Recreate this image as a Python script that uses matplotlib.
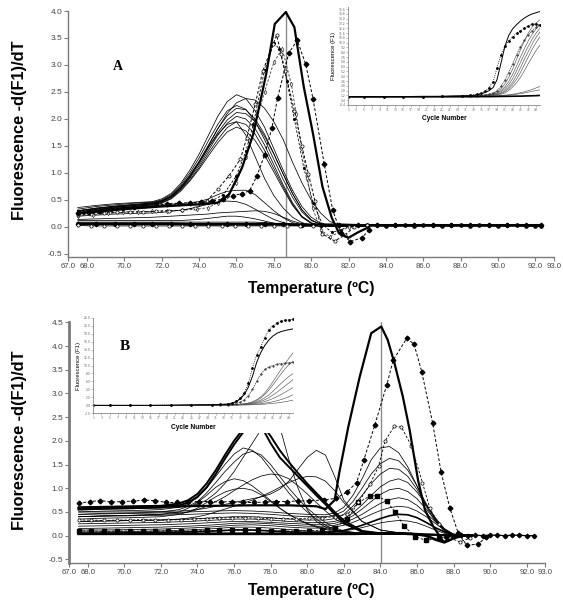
import matplotlib
matplotlib.use('Agg')
import matplotlib.pyplot as plt
from matplotlib.patches import Rectangle

# ================= DATA =================
# ---- Panel A: melt-curve derivative ----
GA = [67.5, 68.5, 69.5, 70.5, 71.5, 72.0, 72.5, 73.0, 73.5, 74.0, 74.5, 75.0, 75.5, 76.0,
      76.5, 77.0, 77.5, 78.0, 78.5, 79.0, 79.5, 80.0, 80.5, 81.0, 81.5, 82.0, 83.0]
a1 = [0.36,0.40,0.43,0.45,0.47,0.52,0.62,0.80,1.05,1.35,1.70,2.05,2.32,2.45,2.38,2.15,1.85,1.45,1.05,0.68,0.38,0.18,0.07,0.03,0.02,0.02,0.02]
a2 = [0.30,0.34,0.38,0.41,0.44,0.48,0.55,0.70,0.92,1.20,1.50,1.82,2.10,2.30,2.38,2.35,2.20,1.95,1.62,1.20,0.82,0.50,0.26,0.10,0.04,0.02,0.02]
a3 = [0.33,0.38,0.41,0.44,0.46,0.50,0.60,0.77,1.00,1.28,1.60,1.90,2.15,2.25,2.18,1.95,1.62,1.25,0.88,0.55,0.28,0.12,0.05,0.02,0.02,0.02,0.02]
a4 = [0.30,0.35,0.39,0.42,0.45,0.49,0.58,0.74,0.96,1.22,1.52,1.82,2.06,2.20,2.17,2.00,1.72,1.36,0.98,0.62,0.32,0.13,0.05,0.02,0.02,0.02,0.02]
a5 = [0.28,0.33,0.37,0.40,0.43,0.47,0.56,0.72,0.93,1.18,1.47,1.75,1.98,2.12,2.10,1.95,1.68,1.35,0.98,0.62,0.32,0.13,0.05,0.02,0.02,0.02,0.02]
a6 = [0.27,0.32,0.36,0.39,0.42,0.46,0.55,0.70,0.90,1.14,1.42,1.70,1.92,2.05,2.00,1.82,1.52,1.15,0.78,0.45,0.20,0.08,0.03,0.02,0.02,0.02,0.02]
a7 = [0.26,0.31,0.35,0.38,0.41,0.45,0.53,0.68,0.87,1.10,1.37,1.62,1.84,1.95,1.90,1.72,1.42,1.08,0.74,0.42,0.19,0.07,0.03,0.02,0.02,0.02,0.02]
a8 = [0.25,0.30,0.34,0.37,0.40,0.44,0.52,0.66,0.85,1.07,1.32,1.56,1.76,1.85,1.78,1.60,1.33,1.02,0.70,0.40,0.18,0.07,0.03,0.02,0.02,0.02,0.02]
a9 = [0.30,0.35,0.38,0.41,0.44,0.48,0.57,0.73,0.95,1.20,1.48,1.72,1.90,1.95,1.70,1.30,0.90,0.58,0.35,0.18,0.08,0.04,0.02,0.02,0.02,0.02,0.02]
a10 = [0.25,0.30,0.33,0.36,0.38,0.40,0.42,0.43,0.45,0.47,0.52,0.60,0.66,0.68,0.68,0.60,0.45,0.30,0.17,0.08,0.04,0.02,0.02,0.02,0.02,0.02,0.02]
a11 = [0.20,0.22,0.24,0.25,0.26,0.27,0.29,0.31,0.34,0.38,0.42,0.46,0.48,0.47,0.42,0.33,0.23,0.14,0.08,0.04,0.02,0.02,0.02,0.02,0.02,0.02,0.02]
a12 = [0.14,0.15,0.16,0.17,0.18,0.19,0.20,0.21,0.22,0.23,0.24,0.26,0.27,0.28,0.29,0.30,0.29,0.25,0.18,0.11,0.06,0.03,0.02,0.02,0.02,0.02,0.02]
a13 = [0.12,0.12,0.12,0.12,0.12,0.12,0.12,0.12,0.13,0.14,0.16,0.18,0.20,0.20,0.18,0.15,0.11,0.07,0.04,0.03,0.02,0.02,0.02,0.02,0.02,0.02,0.02]
a14 = [0.09,0.09,0.09,0.09,0.09,0.09,0.09,0.09,0.09,0.09,0.09,0.09,0.09,0.09,0.09,0.09,0.08,0.07,0.06,0.05,0.04,0.03,0.02,0.02,0.02,0.02,0.02]

aT_x = [67.5,70.0,72.0,74.0,75.0,75.6,76.3,76.9,77.6,78.05,78.64,79.1,79.6,80.1,80.6,81.1,81.5,82.0,82.5,83.1]
aT_y = [0.25,0.33,0.38,0.42,0.45,0.60,1.10,1.72,2.85,3.76,3.98,3.70,2.60,1.72,0.75,0.17,-0.12,-0.20,-0.10,0.00]

d1_x = [67.5,68.1,68.7,69.3,69.9,70.5,71.1,71.7,72.3,72.9,73.5,74.1,74.7,75.3,75.8,76.3,76.7,77.1,77.5,77.9,78.2,78.8,79.25,79.7,80.1,80.7,81.15,81.6,82.1,82.7,83.1]
d1_y = [0.25,0.28,0.30,0.33,0.35,0.37,0.40,0.42,0.43,0.44,0.45,0.46,0.48,0.52,0.58,0.62,0.67,0.95,1.33,1.84,2.39,3.22,3.46,3.02,2.37,1.16,0.31,-0.12,-0.27,-0.20,-0.06]

o1_x = [67.5,68.2,68.9,69.6,70.3,71.0,71.7,72.4,73.1,73.8,74.4,75.0,75.6,76.2,76.55,77.0,77.4,77.95,78.15,78.4,78.6,79.1,79.5,79.85,80.2,80.6,81.26,81.8,82.3,83.0]
o1_y = [0.22,0.24,0.26,0.27,0.28,0.28,0.29,0.30,0.31,0.35,0.48,0.70,0.95,1.25,1.65,2.27,2.88,3.38,3.55,3.20,2.88,2.15,1.50,0.98,0.48,-0.13,-0.26,-0.15,0.00,0.03]

o2_x = [67.5,68.3,69.1,69.9,70.7,71.5,72.3,73.1,73.9,74.5,75.0,75.5,76.0,76.5,77.0,77.5,78.0,78.45,78.94,79.2,79.48,79.8,80.08,80.5,81.0,81.5,82.0]
o2_y = [0.20,0.23,0.25,0.27,0.28,0.29,0.30,0.31,0.33,0.36,0.45,0.58,0.82,1.30,1.90,2.50,3.05,3.30,2.64,2.09,1.47,0.90,0.35,-0.05,-0.18,-0.10,0.00]

o3_x = [67.5,69.0,70.5,72.0,73.5,74.5,75.3,76.0,76.5,76.9,77.5,78.0,78.3,78.7,79.1,79.6,80.1,80.6,81.1,81.6,82.1]
o3_y = [0.30,0.34,0.37,0.40,0.42,0.45,0.60,0.95,1.40,1.90,2.90,3.40,3.30,2.70,2.00,1.10,0.45,0.05,-0.10,-0.05,0.02]

Abase_x = [67.5,68.5,69.5,70.5,71.5,72.5,73.5,74.5,75.5,76.5,77.5,78.5,79.5,80.5,81.5,82.5,83.5,84.5,85.5,86.5,87.5,88.5,89.5,90.5,91.5,92.3]
Abase_y = [0.06,0.06,0.06,0.06,0.06,0.06,0.05,0.05,0.05,0.05,0.05,0.05,0.04,0.04,0.04,0.03,0.03,0.03,0.03,0.03,0.03,0.03,0.03,0.03,0.03,0.03]
Acirc_x = [67.5,68.2,68.9,69.6,70.3,71.0,71.7,72.4,73.1,73.8,74.5,75.2,75.9,76.6,77.3,78.0,78.7,79.4,80.1]
Acirc_y = [0.03,0.02,0.02,0.02,0.02,0.02,0.02,0.02,0.02,0.02,0.02,0.02,0.02,0.02,0.02,0.02,0.02,0.02,0.02]
Atail_x = [83.0,83.5,84.0,84.5,85.0,85.5,86.0,86.5,87.0,87.5,88.0,88.5,89.0,89.5,90.0,90.5,91.0,91.5,92.0,92.3]
Atail_y = [0.03,0.04,0.02,0.03,0.03,0.02,0.03,0.03,0.02,0.03,0.03,0.02,0.03,0.03,0.02,0.03,0.03,0.02,0.02,0.02]

# ---- Panel B ----
G1 = [67.5, 69, 70.5, 72, 73, 73.5, 74, 74.5, 75, 75.5, 76, 76.5, 77, 77.5, 78, 78.5, 79, 79.5,
      80, 80.5, 81, 81.5, 82, 83, 84, 85, 86, 87, 88, 89]
b1 = [0.60,0.61,0.62,0.63,0.68,0.75,0.88,1.10,1.38,1.70,2.00,2.25,2.45,2.30,1.95,1.65,1.45,1.25,1.05,0.85,0.66,0.45,0.27,0.08,0.05,0.05,0.03,0.02,0.00,0.00]
b2 = [0.55,0.57,0.58,0.60,0.64,0.70,0.82,1.02,1.30,1.62,1.92,2.18,2.40,2.35,2.10,1.80,1.55,1.32,1.10,0.90,0.70,0.50,0.32,0.10,0.05,0.05,0.03,0.02,0.00,0.00]
b3 = [0.50,0.52,0.53,0.55,0.60,0.68,0.80,1.00,1.25,1.50,1.72,1.85,1.80,1.65,1.40,1.15,0.90,0.68,0.50,0.35,0.22,0.13,0.08,0.04,0.03,0.03,0.02,0.02,0.00,0.00]
b4 = [0.45,0.47,0.48,0.50,0.55,0.62,0.72,0.90,1.12,1.35,1.55,1.72,1.78,1.70,1.50,1.25,1.00,0.78,0.58,0.42,0.28,0.17,0.10,0.05,0.03,0.03,0.02,0.02,0.00,0.00]
b5 = [0.40,0.42,0.43,0.45,0.47,0.50,0.55,0.62,0.72,0.82,0.95,1.07,1.18,1.26,1.30,1.28,1.20,1.05,0.88,0.70,0.52,0.36,0.24,0.10,0.05,0.04,0.03,0.02,0.00,0.00]
b6 = [0.35,0.37,0.38,0.40,0.45,0.50,0.58,0.70,0.82,0.92,0.98,1.00,0.96,0.86,0.72,0.58,0.45,0.34,0.25,0.18,0.13,0.09,0.06,0.04,0.03,0.03,0.02,0.02,0.00,0.00]
b7 = [0.40,0.42,0.43,0.45,0.50,0.58,0.70,0.85,1.02,1.14,1.20,1.16,1.05,0.90,0.74,0.58,0.45,0.34,0.26,0.20,0.15,0.11,0.08,0.05,0.03,0.03,0.02,0.02,0.00,0.00]
b8 = [0.55,0.56,0.57,0.58,0.60,0.62,0.66,0.75,0.90,1.10,1.35,1.65,1.95,2.25,2.45,2.30,1.60,1.00,0.55,0.30,0.18,0.12,0.08,0.05,0.03,0.03,0.02,0.02,0.00,0.00]
b9 = [0.50,0.50,0.50,0.51,0.52,0.53,0.55,0.58,0.62,0.66,0.70,0.74,0.78,0.82,0.88,0.98,1.15,1.40,1.65,1.80,1.70,1.25,0.75,0.30,0.12,0.06,0.03,0.02,0.00,0.00]
b10 = [0.30,0.31,0.32,0.33,0.35,0.37,0.40,0.44,0.50,0.56,0.62,0.68,0.75,0.83,0.92,1.02,1.12,1.20,1.25,1.24,1.15,0.95,0.70,0.30,0.12,0.06,0.03,0.02,0.00,0.00]

G2 = [67.5, 69, 70.5, 72, 73.5, 75, 76, 77, 78, 79, 80, 81, 81.5, 82, 82.5, 83, 83.5, 84,
      84.5, 85, 85.5, 86, 86.5, 87, 87.5, 88, 89]
p1 = [0.45,0.46,0.47,0.48,0.50,0.52,0.53,0.52,0.50,0.47,0.45,0.44,0.48,0.60,0.85,1.20,1.60,1.85,1.88,1.75,1.45,1.05,0.62,0.30,0.10,0.02,0.00]
p2 = [0.40,0.41,0.42,0.43,0.45,0.47,0.48,0.47,0.45,0.42,0.40,0.40,0.43,0.52,0.72,1.00,1.30,1.52,1.63,1.58,1.38,1.05,0.68,0.35,0.12,0.02,0.00]
p3 = [0.30,0.31,0.32,0.33,0.35,0.38,0.40,0.40,0.38,0.35,0.33,0.33,0.36,0.45,0.62,0.85,1.10,1.30,1.42,1.40,1.25,0.98,0.65,0.35,0.12,0.02,0.00]
p4 = [0.25,0.26,0.27,0.28,0.30,0.33,0.35,0.35,0.33,0.30,0.28,0.28,0.30,0.36,0.48,0.65,0.85,1.03,1.15,1.20,1.12,0.92,0.65,0.38,0.15,0.03,0.00]
p5 = [0.20,0.21,0.22,0.23,0.25,0.28,0.30,0.30,0.28,0.26,0.24,0.24,0.26,0.32,0.42,0.56,0.72,0.87,0.97,1.00,0.93,0.78,0.56,0.33,0.14,0.03,0.00]
p6 = [0.15,0.16,0.17,0.18,0.20,0.23,0.26,0.27,0.25,0.22,0.20,0.20,0.22,0.27,0.35,0.45,0.57,0.68,0.76,0.80,0.76,0.64,0.47,0.30,0.13,0.03,0.00]
p7 = [0.12,0.12,0.13,0.14,0.16,0.19,0.22,0.23,0.21,0.18,0.16,0.16,0.18,0.22,0.28,0.36,0.45,0.53,0.59,0.62,0.60,0.52,0.40,0.26,0.12,0.03,0.00]
p8 = [0.05,0.05,0.06,0.07,0.08,0.10,0.12,0.12,0.10,0.08,0.07,0.07,0.08,0.11,0.16,0.22,0.29,0.36,0.42,0.45,0.44,0.38,0.28,0.17,0.08,0.02,0.00]
p9 = [0.08,0.08,0.09,0.10,0.12,0.15,0.18,0.18,0.16,0.13,0.10,0.09,0.09,0.10,0.13,0.17,0.22,0.27,0.30,0.32,0.31,0.27,0.20,0.12,0.05,0.01,0.00]

bT_x = [67.5,69.0,71.0,73.0,75.0,77.0,79.0,80.5,81.0,81.5,81.75,82.25,82.87,83.5,84.05,84.4,84.77,85.23,85.6,86.06,86.44,86.9,87.45,87.8,88.3,89.0]
bT_y = [0.58,0.60,0.61,0.62,0.63,0.64,0.64,0.62,0.56,0.75,1.32,2.30,3.35,4.27,4.41,4.13,3.64,2.93,2.23,1.17,0.54,0.19,-0.13,-0.09,0.00,0.01]

bd_x = [67.5,68.1,68.7,69.3,69.9,70.5,71.1,71.7,72.3,72.9,73.5,74.1,74.7,75.3,75.9,76.5,77.1,77.7,78.3,78.9,79.5,80.1,
        80.9,81.6,82.2,82.7,83.1,83.7,84.35,84.7,85.44,85.84,86.26,86.86,87.32,87.8,88.26,88.72,89.35,89.8]
bd_y = [0.68,0.72,0.74,0.71,0.72,0.73,0.75,0.74,0.70,0.70,0.71,0.72,0.72,0.71,0.72,0.70,0.70,0.71,0.72,0.72,0.73,0.74,
        0.75,0.79,0.93,1.12,1.60,2.34,3.18,3.70,4.16,4.04,3.46,2.37,1.34,0.58,0.05,-0.20,-0.18,-0.02]

bo_x = [67.5,68.2,68.9,69.6,70.3,71.0,71.7,72.4,73.1,73.8,74.5,75.2,75.9,76.6,77.3,78.0,78.7,79.4,80.1,80.8,81.5,82.2,
        82.8,83.45,83.9,84.26,84.77,85.15,85.7,86.3,86.7,87.2,87.8,88.35,88.9]
bo_y = [0.33,0.33,0.32,0.33,0.33,0.34,0.33,0.33,0.34,0.35,0.36,0.37,0.38,0.38,0.37,0.36,0.36,0.36,0.37,0.38,0.40,0.45,
        0.70,1.10,1.46,2.00,2.31,2.29,1.89,1.12,0.58,0.25,-0.05,-0.13,-0.05]

bs_x = [67.5,68.2,68.9,69.6,70.3,71.0,71.7,72.4,73.1,73.8,74.5,75.2,75.9,76.6,77.3,78.0,78.7,79.4,80.1,80.8,81.5,
        82.2,82.8,83.45,83.8,84.35,84.8,85.3,85.9,86.5,87.2,87.8]
bs_y = [0.10,0.10,0.09,0.10,0.10,0.09,0.10,0.10,0.09,0.10,0.11,0.11,0.12,0.12,0.11,0.10,0.10,0.10,0.10,0.12,0.16,
        0.35,0.70,0.84,0.84,0.73,0.50,0.20,-0.02,-0.10,-0.05,0.00]

Bbase_x = [67.5,69.0,70.5,72.0,73.5,75.0,76.5,78.0,79.5,81.0,82.5,84.0,85.0,86.0,86.5,87.0,87.5,88.0,88.5]
Bbase_y = [0.04,0.04,0.04,0.04,0.04,0.04,0.04,0.04,0.04,0.04,0.04,0.05,0.05,0.03,0.00,-0.08,-0.14,-0.05,0.00]
Btail_x = [87.6,88.0,88.4,88.8,89.2,89.6,90.0,90.4,90.8,91.2,91.6,92.0,92.4]
Btail_y = [-0.02,0.00,0.01,0.00,0.01,0.00,0.01,0.01,0.00,0.01,0.01,0.00,0.00]

# ---- Insets: amplification curves ----
IC = [1, 5, 10, 15, 20, 25, 30, 32, 34, 35, 36, 37, 38, 39, 40, 41, 42, 43, 44, 45, 46, 47, 48, 49, 50]
iA_solid = [1.0,1.0,1.0,1.0,1.05,1.05,1.1,1.15,1.3,1.45,1.7,2.0,2.5,3.8,6.5,9.3,11.2,12.3,13.0,13.6,14.1,14.5,14.8,15.0,15.2]
iA_dot = [1.0,1.0,1.0,1.0,1.0,1.05,1.1,1.2,1.4,1.6,1.9,2.5,3.5,5.8,8.0,9.4,10.3,11.0,11.6,12.0,12.4,12.8,13.1,13.1,12.9]
iA_3 = [1.0,1.0,1.0,1.0,1.0,1.05,1.1,1.1,1.15,1.2,1.25,1.35,1.5,1.8,2.3,3.1,4.2,5.6,7.2,8.8,10.3,11.6,12.6,13.3,13.8]
iA_4 = [1.0,1.0,1.0,1.0,1.0,1.05,1.1,1.1,1.15,1.2,1.2,1.3,1.4,1.6,2.0,2.6,3.5,4.7,6.1,7.6,9.0,10.3,11.4,12.3,13.0]
iA_5 = [1.0,1.0,1.0,1.0,1.0,1.0,1.05,1.1,1.1,1.15,1.2,1.25,1.35,1.5,1.8,2.3,3.0,4.0,5.3,6.7,8.1,9.4,10.6,11.6,12.4]
iA_6 = [1.0,1.0,1.0,1.0,1.0,1.0,1.05,1.1,1.1,1.1,1.15,1.2,1.3,1.4,1.6,2.0,2.6,3.4,4.5,5.8,7.2,8.5,9.8,10.9,11.8]
iA_7 = [1.0,1.0,1.0,1.0,1.0,1.0,1.05,1.05,1.1,1.1,1.15,1.2,1.25,1.35,1.5,1.8,2.3,3.0,3.9,5.0,6.3,7.6,8.9,10.0,11.0]
iA_8 = [1.0,1.0,1.0,1.0,1.0,1.0,1.05,1.05,1.1,1.1,1.1,1.15,1.2,1.3,1.4,1.6,2.0,2.6,3.3,4.2,5.3,6.5,7.6,8.7,9.6]
iA_9 = [1.0,1.0,1.0,1.0,1.0,1.05,1.1,1.1,1.15,1.2,1.3,1.4,1.6,2.0,2.7,3.7,5.0,6.5,8.0,9.3,10.4,11.3,12.0,12.6,13.0]
iA_10 = [1.0,1.0,1.0,1.0,1.0,1.0,1.0,1.05,1.05,1.05,1.1,1.1,1.1,1.15,1.2,1.25,1.3,1.4,1.5,1.65,1.8,2.0,2.2,2.45,2.7]
iA_11 = [1.0,1.0,1.0,1.0,1.0,1.0,1.0,1.0,1.05,1.05,1.05,1.05,1.1,1.1,1.15,1.2,1.25,1.3,1.4,1.5,1.6,1.75,1.9,2.0,2.15]
iA_flat = [0.95,0.95,0.95,0.96,0.96,0.97,0.98,0.98,0.99,1.0,1.0,1.0,1.01,1.02,1.03,1.04,1.05,1.06,1.07,1.08,1.1,1.12,1.14,1.16,1.2]

iB_solid = [0.0,0.0,0.0,0.0,0.05,0.1,0.15,0.2,0.3,0.5,0.9,1.6,2.7,4.6,7.3,10.7,13.2,15.0,16.4,17.4,18.1,18.5,18.8,19.0,19.2]
iB_dot = [0.0,0.0,0.0,0.0,0.05,0.1,0.15,0.25,0.4,0.6,1.0,1.8,3.1,5.6,9.4,12.6,14.6,17.0,19.0,20.0,20.7,21.1,21.3,21.5,21.6]
iB_3 = [0,0,0,0,0,0.05,0.1,0.1,0.15,0.2,0.25,0.3,0.4,0.6,0.9,1.4,2.1,3.1,4.4,5.9,7.5,9.0,10.5,11.9,13.3]
iB_4 = [0,0,0,0,0,0.05,0.1,0.1,0.15,0.15,0.2,0.25,0.35,0.5,0.8,1.2,1.8,2.7,3.8,5.1,6.5,7.9,9.2,10.3,11.1]
iB_5 = [0,0,0,0,0,0.05,0.1,0.15,0.2,0.3,0.45,0.8,1.4,2.4,4.0,6.0,7.8,9.0,9.6,10.0,10.3,10.5,10.6,10.7,10.8]
iB_6 = [0,0,0,0,0,0,0.05,0.1,0.1,0.15,0.2,0.25,0.3,0.4,0.6,0.9,1.3,1.9,2.6,3.5,4.5,5.5,6.4,7.3,8.0]
iB_7 = [0,0,0,0,0,0,0.05,0.05,0.1,0.1,0.15,0.2,0.25,0.35,0.5,0.7,1.0,1.4,1.9,2.6,3.3,4.1,4.9,5.7,6.5]
iB_8 = [0,0,0,0,0,0,0.05,0.05,0.1,0.1,0.1,0.15,0.2,0.25,0.35,0.5,0.7,0.95,1.3,1.7,2.2,2.7,3.3,3.9,4.5]
iB_9 = [0,0,0,0,0,0,0,0.05,0.05,0.1,0.1,0.1,0.15,0.2,0.25,0.3,0.4,0.55,0.7,0.9,1.15,1.45,1.8,2.2,2.7]
iB_10 = [0,0,0,0,0,0,0,0,0.05,0.05,0.05,0.1,0.1,0.1,0.15,0.2,0.25,0.3,0.4,0.5,0.6,0.75,0.9,1.1,1.3]

# tick labels
A_xticks = [67, 68, 70, 72, 74, 76, 78, 80, 82, 84, 86, 88, 90, 92, 93]
A_yticks = [-0.5, 0.0, 0.5, 1.0, 1.5, 2.0, 2.5, 3.0, 3.5, 4.0]
B_yticks = [-0.5, 0.0, 0.5, 1.0, 1.5, 2.0, 2.5, 3.0, 3.5, 4.0, 4.5]
inset_xticks = list(range(1, 50, 2))
insetA_yticks = [round(-0.4 + 0.8 * k, 1) for k in range(21)]
insetB_yticks = list(range(-2, 23, 2))
A_peak_T = 78.65
B_peak_T = 84.05

# ================= PLOT =================
W, H = 563, 604
fig = plt.figure(figsize=(W / 100, H / 100), dpi=100)


def rect(l, t, r, b):
    return [l / W, 1 - b / H, (r - l) / W, (b - t) / H]


SP = '#7a7a7a'
TK = '#444444'
SANS = 'Liberation Sans'


def style_main(ax, lw_left):
    for s in ('top', 'right'):
        ax.spines[s].set_visible(False)
    ax.spines['left'].set_color(SP)
    ax.spines['left'].set_linewidth(lw_left)
    ax.spines['bottom'].set_color(SP)
    ax.spines['bottom'].set_linewidth(1.0)
    ax.set_xlim(67, 93)
    ax.set_xticks(A_xticks)
    ax.set_xticklabels(['%.1f' % t for t in A_xticks])
    ax.tick_params(axis='both', colors=SP, labelcolor=TK, labelsize=6.0, length=3, width=0.8, pad=1.5)
    ax.tick_params(axis='x', labelsize=5.6)
    for lab in ax.get_xticklabels() + ax.get_yticklabels():
        lab.set_family(SANS)


thin = dict(color='black', lw=0.55)
dash = (0, (3, 2))
MS = 2.3

# ---------- Panel A ----------
axA = fig.add_axes(rect(68.4, 11, 554.0, 257))
axA.set_ylim(-0.556, 4.0)
axA.set_yticks(A_yticks)
axA.set_yticklabels(['%.1f' % v for v in A_yticks])
style_main(axA, 1.0)
axA.axvline(A_peak_T, color='#8a8a8a', lw=1.0, zorder=1)
for c in (a1, a2, a3, a4, a5, a6, a7, a8, a9, a10, a11, a12, a13, a14):
    axA.plot(GA, c, **thin, zorder=2)
axA.plot(Abase_x, Abase_y, color='black', lw=2.0, marker='D', ms=MS, zorder=3)
axA.plot(Acirc_x, Acirc_y, color='black', lw=0.6, marker='o', ms=MS, mfc='white', mew=0.5, zorder=3)
axA.plot(Atail_x, Atail_y, color='black', lw=1.2, marker='o', ms=MS, zorder=3)
axA.plot(o3_x, o3_y, color='black', lw=0.6, ls=dash, marker='.', ms=2.5, zorder=4)
axA.plot(o2_x, o2_y, color='#333333', lw=0.6, ls=dash, marker='d', ms=MS, mfc='white', mew=0.5, zorder=4)
axA.plot(o1_x, o1_y, color='black', lw=0.7, ls=dash, marker='o', ms=MS, mfc='white', mew=0.5, zorder=4)
axA.plot(d1_x, d1_y, color='black', lw=0.7, ls=dash, marker='D', ms=2.4, zorder=4)
axA.plot(aT_x, aT_y, color='black', lw=1.6, zorder=5)

# ---------- Panel B ----------
axB = fig.add_axes(rect(69.4, 322.3, 545, 562.7))
axB.set_ylim(-0.57, 4.5)
axB.set_yticks(B_yticks)
axB.set_yticklabels(['%.1f' % v for v in B_yticks])
style_main(axB, 2.0)
axB.axvline(B_peak_T, color='#8a8a8a', lw=1.0, zorder=1)
for c in (b3, b4, b5, b6, b7, b8, b9, b10):
    axB.plot(G1, c, **thin, zorder=2)
for c in (b1, b2):
    axB.plot(G1, c, color='black', lw=1.4, zorder=3)
for c in (p1, p2, p3, p4, p5, p6, p7, p9):
    axB.plot(G2, c, **thin, zorder=2)
axB.plot(G2, p8, color='black', lw=1.2, zorder=3)
axB.plot(Bbase_x, Bbase_y, color='black', lw=2.0, zorder=3)
axB.plot(Btail_x, Btail_y, color='black', lw=0.9, marker='D', ms=MS, zorder=3)
axB.plot(bs_x, bs_y, color='black', lw=0.6, ls=dash, marker='s', ms=2.2, zorder=4)
axB.plot(bo_x, bo_y, color='black', lw=0.6, ls=dash, marker='o', ms=MS, mfc='white', mew=0.5, zorder=4)
axB.plot(bd_x, bd_y, color='black', lw=0.7, ls=dash, marker='D', ms=2.4, zorder=4)
axB.plot(bT_x, bT_y, color='black', lw=1.6, zorder=5)

# white backing under inset B (covers its label area too)
fig.add_artist(Rectangle((72 / W, 1 - 433 / H), 224 / W, 119 / H, transform=fig.transFigure,
                         facecolor='white', edgecolor='none', zorder=0.5))


def style_inset(ax, yt, ylim):
    for s in ('top', 'right'):
        ax.spines[s].set_visible(False)
    for s in ('left', 'bottom'):
        ax.spines[s].set_color('#888888')
        ax.spines[s].set_linewidth(0.6)
    ax.set_xlim(1, 50)
    ax.set_ylim(*ylim)
    ax.set_xticks(inset_xticks)
    ax.set_xticklabels([str(t) for t in inset_xticks])
    ax.set_yticks(yt)
    ax.set_yticklabels(['%.1f' % v for v in yt])
    ax.tick_params(axis='both', colors='#888888', labelcolor='#666666', labelsize=2.2,
                   length=1.2, width=0.4, pad=0.8)
    ax.set_xlabel('Cycle Number', fontsize=4.8, fontweight='bold', family=SANS, labelpad=2.5)
    ax.set_ylabel('Fluorescence (F1)', fontsize=4.2, family=SANS, labelpad=2)


insA = fig.add_axes(rect(348.3, 6.7, 540, 105))
insA.set_zorder(2)
style_inset(insA, insetA_yticks, (-0.4, 16.0))
for c in (iA_3, iA_4, iA_5, iA_6, iA_7, iA_8, iA_10, iA_11):
    insA.plot(IC, c, color='#555555', lw=0.45)
insA.plot(IC, iA_9, color='#333333', lw=0.5, ls=(0, (2, 1)), marker='.', ms=1.2)
insA.plot(IC, iA_flat, color='black', lw=1.2)
insA.plot(IC, iA_solid, color='black', lw=0.7)
insA.plot(IC, iA_dot, color='black', lw=0.6, ls=(0, (1, 1.5)), marker='.', ms=2)

insB = fig.add_axes(rect(93.3, 317.7, 293.3, 413.3))
insB.set_zorder(2)
style_inset(insB, insetB_yticks, (-2, 22))
for c in (iB_3, iB_4, iB_6, iB_7, iB_8, iB_9, iB_10):
    insB.plot(IC, c, color='#555555', lw=0.45)
insB.plot(IC, iB_5, color='#333333', lw=0.5, ls=(0, (2, 1)), marker='.', ms=1.2)
insB.plot(IC, iB_solid, color='black', lw=0.7)
insB.plot(IC, iB_dot, color='black', lw=0.6, ls=(0, (1, 1.5)), marker='.', ms=2)

# ---------- text ----------
fig.text(20 / W, 1 - 130 / H, 'Fluorescence -d(F1)/dT', rotation=90, ha='center', va='center',
         fontsize=11.8, fontweight='bold', family=SANS)
fig.text(20 / W, 1 - 440 / H, 'Fluorescence -d(F1)/dT', rotation=90, ha='center', va='center',
         fontsize=11.8, fontweight='bold', family=SANS)
fig.text(311 / W, 1 - 289 / H, 'Temperature (ºC)', ha='center', va='center',
         fontsize=11.3, fontweight='bold', family=SANS)
fig.text(311 / W, 1 - 591 / H, 'Temperature (ºC)', ha='center', va='center',
         fontsize=11.3, fontweight='bold', family=SANS)
fig.text(118 / W, 1 - 67 / H, 'A', ha='center', va='center', fontsize=10, fontweight='bold',
         family='Liberation Serif', zorder=5)
fig.text(125 / W, 1 - 347 / H, 'B', ha='center', va='center', fontsize=11, fontweight='bold',
         family='Liberation Serif', zorder=5)

fig.savefig('out.png', dpi=100, facecolor='white')
